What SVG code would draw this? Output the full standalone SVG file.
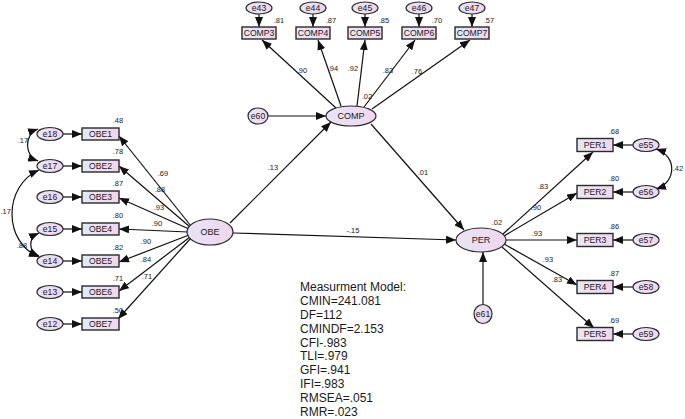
<svg xmlns="http://www.w3.org/2000/svg" width="685" height="419" viewBox="0 0 685 419">
<defs>
<linearGradient id="gb" x1="0" y1="0" x2="1" y2="0">
<stop offset="0" stop-color="#e6e8f4"/><stop offset="1" stop-color="#f0d6ef"/>
</linearGradient>
<linearGradient id="ge" x1="0" y1="0" x2="1" y2="0">
<stop offset="0" stop-color="#e8e4f4"/><stop offset="1" stop-color="#efd6ef"/>
</linearGradient>
<marker id="ah" markerUnits="userSpaceOnUse" markerWidth="10" markerHeight="8" refX="10" refY="4" orient="auto-start-reverse">
<path d="M0,0 L10,4 L0,8 z" fill="#111"/>
</marker>
</defs>
<style>
text{font-family:"Liberation Sans",Arial,sans-serif;fill:#1a1a1a}
.box{fill:url(#gb);stroke:#2a2a2a;stroke-width:1.4}
.el{fill:url(#ge);stroke:#2a2a2a;stroke-width:1.2}
.lb{font-size:8.6px;text-anchor:middle}
.lv{font-size:9px;text-anchor:middle}
.n{font-size:7.5px;text-anchor:middle}
.c line,.c path{stroke:#111;stroke-width:1.2;fill:none;marker-end:url(#ah)}
.c path.cov{marker-start:url(#ah)}
.st{font-size:12px}
</style>

<!-- connectors -->
<g id="connectors" class="c">
<line x1="63" y1="134" x2="82" y2="134"/>
<line x1="63" y1="166" x2="82" y2="166"/>
<line x1="63" y1="197" x2="82" y2="197"/>
<line x1="63" y1="229" x2="82" y2="229"/>
<line x1="63" y1="261" x2="82" y2="261"/>
<line x1="63" y1="292" x2="82" y2="292"/>
<line x1="63" y1="324" x2="82" y2="324"/>
<line x1="191" y1="226" x2="119" y2="136"/>
<line x1="190" y1="227" x2="119" y2="166"/>
<line x1="189" y1="229" x2="119" y2="198"/>
<line x1="188" y1="232" x2="119" y2="229"/>
<line x1="189" y1="235" x2="119" y2="262"/>
<line x1="190" y1="237" x2="119" y2="291"/>
<line x1="191" y1="238" x2="118" y2="319"/>
<path class="cov" d="M38,129 C24,134 24,156 38,161"/>
<path class="cov" d="M39,170 C3,186 3,242 39,257"/>
<path class="cov" d="M39,233 C28,238 28,251 39,256"/>
<line x1="259" y1="14" x2="259" y2="27"/>
<line x1="313" y1="14" x2="313" y2="27"/>
<line x1="365" y1="14" x2="365" y2="27"/>
<line x1="419" y1="14" x2="419" y2="27"/>
<line x1="472" y1="14" x2="472" y2="27"/>
<line x1="336" y1="108" x2="262" y2="40"/>
<line x1="341" y1="106" x2="318" y2="40"/>
<line x1="357" y1="106" x2="365" y2="40"/>
<line x1="364" y1="107" x2="415" y2="40"/>
<line x1="372" y1="109" x2="470" y2="40"/>
<line x1="268" y1="116" x2="326" y2="116"/>
<line x1="230" y1="223" x2="331" y2="122"/>
<line x1="371" y1="124" x2="464" y2="230"/>
<line x1="233" y1="233" x2="456" y2="240"/>
<line x1="483" y1="304" x2="483" y2="252"/>
<line x1="503" y1="234" x2="593" y2="152"/>
<line x1="504" y1="236" x2="577" y2="193"/>
<line x1="506" y1="240" x2="577" y2="240"/>
<line x1="504" y1="244" x2="577" y2="285"/>
<line x1="502" y1="247" x2="594" y2="328"/>
<line x1="633" y1="145" x2="613" y2="145"/>
<line x1="633" y1="192" x2="613" y2="192"/>
<line x1="633" y1="240" x2="613" y2="240"/>
<line x1="633" y1="287" x2="613" y2="287"/>
<line x1="633" y1="334" x2="613" y2="334"/>
<path class="cov" d="M656,149 C677,156 677,182 656,189"/>
</g>

<g id="OBE1"><rect class="box" x="82" y="128" width="37" height="12"/><text class="lb" x="100.5" y="137.2">OBE1</text></g>
<g id="OBE2"><rect class="box" x="82" y="160" width="37" height="12"/><text class="lb" x="100.5" y="169.2">OBE2</text></g>
<g id="OBE3"><rect class="box" x="82" y="191" width="37" height="12"/><text class="lb" x="100.5" y="200.2">OBE3</text></g>
<g id="OBE4"><rect class="box" x="82" y="223" width="37" height="12"/><text class="lb" x="100.5" y="232.2">OBE4</text></g>
<g id="OBE5"><rect class="box" x="82" y="255" width="37" height="12"/><text class="lb" x="100.5" y="264.2">OBE5</text></g>
<g id="OBE6"><rect class="box" x="82" y="286" width="37" height="12"/><text class="lb" x="100.5" y="295.2">OBE6</text></g>
<g id="OBE7"><rect class="box" x="82" y="318" width="37" height="12"/><text class="lb" x="100.5" y="327.2">OBE7</text></g>

<g id="e18"><ellipse class="el" cx="50" cy="134" rx="13" ry="6.5"/><text class="lb" x="50" y="137.2">e18</text></g>
<g id="e17"><ellipse class="el" cx="50" cy="166" rx="13" ry="6.5"/><text class="lb" x="50" y="169.2">e17</text></g>
<g id="e16"><ellipse class="el" cx="50" cy="197" rx="13" ry="6.5"/><text class="lb" x="50" y="200.2">e16</text></g>
<g id="e15"><ellipse class="el" cx="50" cy="229" rx="13" ry="6.5"/><text class="lb" x="50" y="232.2">e15</text></g>
<g id="e14"><ellipse class="el" cx="50" cy="261" rx="13" ry="6.5"/><text class="lb" x="50" y="264.2">e14</text></g>
<g id="e13"><ellipse class="el" cx="50" cy="292" rx="13" ry="6.5"/><text class="lb" x="50" y="295.2">e13</text></g>
<g id="e12"><ellipse class="el" cx="50" cy="324" rx="13" ry="6.5"/><text class="lb" x="50" y="327.2">e12</text></g>

<g id="OBE"><ellipse class="el" cx="210" cy="232" rx="23" ry="13"/><text class="lv" x="210" y="235.3">OBE</text></g>

<g id="COMP3"><rect class="box" x="242" y="27" width="34" height="12"/><text class="lb" x="259" y="36.2">COMP3</text></g>
<g id="COMP4"><rect class="box" x="296" y="27" width="34" height="12"/><text class="lb" x="313" y="36.2">COMP4</text></g>
<g id="COMP5"><rect class="box" x="348" y="27" width="34" height="12"/><text class="lb" x="365" y="36.2">COMP5</text></g>
<g id="COMP6"><rect class="box" x="402" y="27" width="34" height="12"/><text class="lb" x="419" y="36.2">COMP6</text></g>
<g id="COMP7"><rect class="box" x="455" y="27" width="34" height="12"/><text class="lb" x="472" y="36.2">COMP7</text></g>

<g id="e43"><ellipse class="el" cx="259" cy="8" rx="13" ry="6"/><text class="lb" x="259" y="11.2">e43</text></g>
<g id="e44"><ellipse class="el" cx="313" cy="8" rx="13" ry="6"/><text class="lb" x="313" y="11.2">e44</text></g>
<g id="e45"><ellipse class="el" cx="365" cy="8" rx="13" ry="6"/><text class="lb" x="365" y="11.2">e45</text></g>
<g id="e46"><ellipse class="el" cx="419" cy="8" rx="13" ry="6"/><text class="lb" x="419" y="11.2">e46</text></g>
<g id="e47"><ellipse class="el" cx="472" cy="8" rx="13" ry="6"/><text class="lb" x="472" y="11.2">e47</text></g>

<g id="COMP"><ellipse class="el" cx="351" cy="116" rx="25" ry="10"/><text class="lv" x="351" y="119.3">COMP</text></g>
<g id="e60"><ellipse class="el" cx="258" cy="116" rx="10" ry="8"/><text class="lb" x="258" y="119.2">e60</text></g>

<g id="PER"><ellipse class="el" cx="481" cy="240" rx="25" ry="12"/><text class="lv" x="481" y="243.3">PER</text></g>
<g id="e61"><ellipse class="el" cx="483" cy="314" rx="9" ry="9.5"/><text class="lb" x="483" y="317.2">e61</text></g>

<g id="PER1"><rect class="box" x="577" y="138.5" width="36" height="13"/><text class="lb" x="595" y="148.2">PER1</text></g>
<g id="PER2"><rect class="box" x="577" y="185.5" width="36" height="13"/><text class="lb" x="595" y="195.2">PER2</text></g>
<g id="PER3"><rect class="box" x="577" y="233.5" width="36" height="13"/><text class="lb" x="595" y="243.2">PER3</text></g>
<g id="PER4"><rect class="box" x="577" y="280.5" width="36" height="13"/><text class="lb" x="595" y="290.2">PER4</text></g>
<g id="PER5"><rect class="box" x="577" y="327.5" width="36" height="13"/><text class="lb" x="595" y="337.2">PER5</text></g>

<g id="e55"><ellipse class="el" cx="646" cy="145" rx="13" ry="6.5"/><text class="lb" x="646" y="148.2">e55</text></g>
<g id="e56"><ellipse class="el" cx="646" cy="192" rx="13" ry="6.5"/><text class="lb" x="646" y="195.2">e56</text></g>
<g id="e57"><ellipse class="el" cx="646" cy="240" rx="13" ry="6.5"/><text class="lb" x="646" y="243.2">e57</text></g>
<g id="e58"><ellipse class="el" cx="646" cy="287" rx="13" ry="6.5"/><text class="lb" x="646" y="290.2">e58</text></g>
<g id="e59"><ellipse class="el" cx="646" cy="334" rx="13" ry="6.5"/><text class="lb" x="646" y="337.2">e59</text></g>

<g id="estimates">
<text class="n" x="118" y="123">.48</text>
<text class="n" x="118" y="154">.78</text>
<text class="n" x="118" y="186">.87</text>
<text class="n" x="118" y="218">.80</text>
<text class="n" x="118" y="250">.82</text>
<text class="n" x="118" y="281">.71</text>
<text class="n" x="118" y="313">.50</text>
<text class="n" x="163" y="176">.69</text>
<text class="n" x="160" y="192">.88</text>
<text class="n" x="159" y="210">.93</text>
<text class="n" x="157" y="226">.90</text>
<text class="n" x="146" y="244">.90</text>
<text class="n" x="146" y="262">.84</text>
<text class="n" x="147" y="279">.71</text>
<text class="n" x="23" y="143">.17</text>
<text class="n" x="0.5" y="214" style="text-anchor:start">.17</text>
<text class="n" x="22" y="248">.88</text>
<text class="n" x="279" y="22.5">.81</text>
<text class="n" x="331" y="22.5">.87</text>
<text class="n" x="384" y="22.5">.85</text>
<text class="n" x="437" y="22.5">.70</text>
<text class="n" x="489" y="22.5">.57</text>
<text class="n" x="302" y="72.5">.90</text>
<text class="n" x="333" y="71">.94</text>
<text class="n" x="353" y="71">.92</text>
<text class="n" x="388" y="72.5">.83</text>
<text class="n" x="417" y="74">.76</text>
<text class="n" x="367" y="99">.02</text>
<text class="n" x="273" y="170">.13</text>
<text class="n" x="423" y="175">.01</text>
<text class="n" x="353" y="233">-.15</text>
<text class="n" x="497" y="225">.02</text>
<text class="n" x="614" y="133.5">.68</text>
<text class="n" x="614" y="180.5">.80</text>
<text class="n" x="614" y="228.5">.86</text>
<text class="n" x="614" y="275.5">.87</text>
<text class="n" x="614" y="322.5">.69</text>
<text class="n" x="543" y="189">.83</text>
<text class="n" x="536" y="210">.90</text>
<text class="n" x="537" y="236">.93</text>
<text class="n" x="548" y="262">.93</text>
<text class="n" x="557" y="282">.83</text>
<text class="n" x="678" y="171">.42</text>
</g>

<g id="fit">
<text class="st" x="300" y="291.4">Measurment Model:</text>
<text class="st" x="300" y="305.2">CMIN=241.081</text>
<text class="st" x="300" y="319.0">DF=112</text>
<text class="st" x="300" y="332.8">CMINDF=2.153</text>
<text class="st" x="300" y="346.6">CFI-.983</text>
<text class="st" x="300" y="360.4">TLI=.979</text>
<text class="st" x="300" y="374.2">GFI=.941</text>
<text class="st" x="300" y="388.0">IFI=.983</text>
<text class="st" x="300" y="401.8">RMSEA=.051</text>
<text class="st" x="300" y="415.6">RMR=.023</text>
</g>
</svg>
